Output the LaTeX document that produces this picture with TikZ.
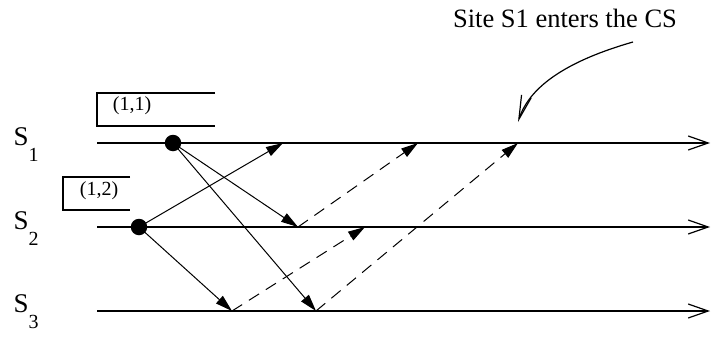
\documentclass[tikz,border=0pt]{standalone}
\usepackage{fontspec}
\setmainfont{Liberation Serif}
\usepackage{tikz}
\usetikzlibrary{arrows.meta,positioning,calc}

\newcommand{\sitesub}[1]{\raisebox{-16pt}{\fontsize{20}{20}\selectfont #1}}

\begin{document}
\begin{tikzpicture}[
  x=1pt, y=-1pt,
  site/.style={line width=1.2pt, -{Straight Barb[length=20pt, width=14pt, line width=1.2pt]}},
  msg/.style={line width=1pt, -{Triangle[length=17pt, width=10pt]}},
  reply/.style={msg, dash pattern=on 12pt off 8pt},
  dot/.style={circle, fill=black, inner sep=0pt, minimum size=16.5pt},
  lbl/.style={anchor=base west, font=\fontsize{27}{27}\selectfont},
  qlbl/.style={font=\fontsize{20}{20}\selectfont},
  qbox/.style={line width=1.2pt}
]
  \useasboundingbox (0,0) rectangle (711,337);

  % site time lines
  \coordinate (l1) at (97,143);  \coordinate (e1) at (710,143);
  \coordinate (l2) at (97,227);  \coordinate (e2) at (710,227);
  \coordinate (l3) at (97,311);  \coordinate (e3) at (710,311);
  \draw[site] (l1) -- (e1);
  \draw[site] (l2) -- (e2);
  \draw[site] (l3) -- (e3);

  \node[lbl] (s1) at (10,145) {S\sitesub{1}};
  \node[lbl] (s2) at (10,229) {S\sitesub{2}};
  \node[lbl] (s3) at (10,312) {S\sitesub{3}};

  % request queues
  \draw[qbox] (215,93) -- (97,93) -- (97,126) -- (215,126);
  \node[qlbl] (q11) at (132,106) {(1,1)};
  \draw[qbox] (130,177) -- (63,177) -- (63,210) -- (130,210);
  \node[qlbl] (q12) at (99,191) {(1,2)};

  % request events
  \node[dot] (req1) at (173,143) {};
  \node[dot] (req2) at (139,227) {};

  % receive points
  \coordinate (r21) at (283,143);
  \coordinate (r12) at (298,227);
  \coordinate (r13) at (316,311);
  \coordinate (r23) at (232,311);
  \coordinate (a21) at (418,143);
  \coordinate (a32) at (365,227);
  \coordinate (a31) at (518,143);

  % requests
  \draw[msg] (req2.center) -- (r21);
  \draw[msg] (req1.center) -- (r12);
  \draw[msg] (req1.center) -- (r13);
  \draw[msg] (req2.center) -- (r23);

  % replies
  \draw[reply] (r12) -- (a21);
  \draw[reply] (r23) -- (a32);
  \draw[reply] (r13) -- (a31);

  % annotation
  \node[font=\fontsize{26.5}{26.5}\selectfont] (cs) at (565,18) {Site S1 enters the CS};
  \coordinate (c0) at (633,42);
  \coordinate (c1) at (518,122);
  \draw[line width=1.2pt, -{Straight Barb[length=24pt, width=10pt, line width=1.2pt]}]
    (c0) .. controls (570,60) and (530,85) .. (c1);
\end{tikzpicture}
\end{document}
